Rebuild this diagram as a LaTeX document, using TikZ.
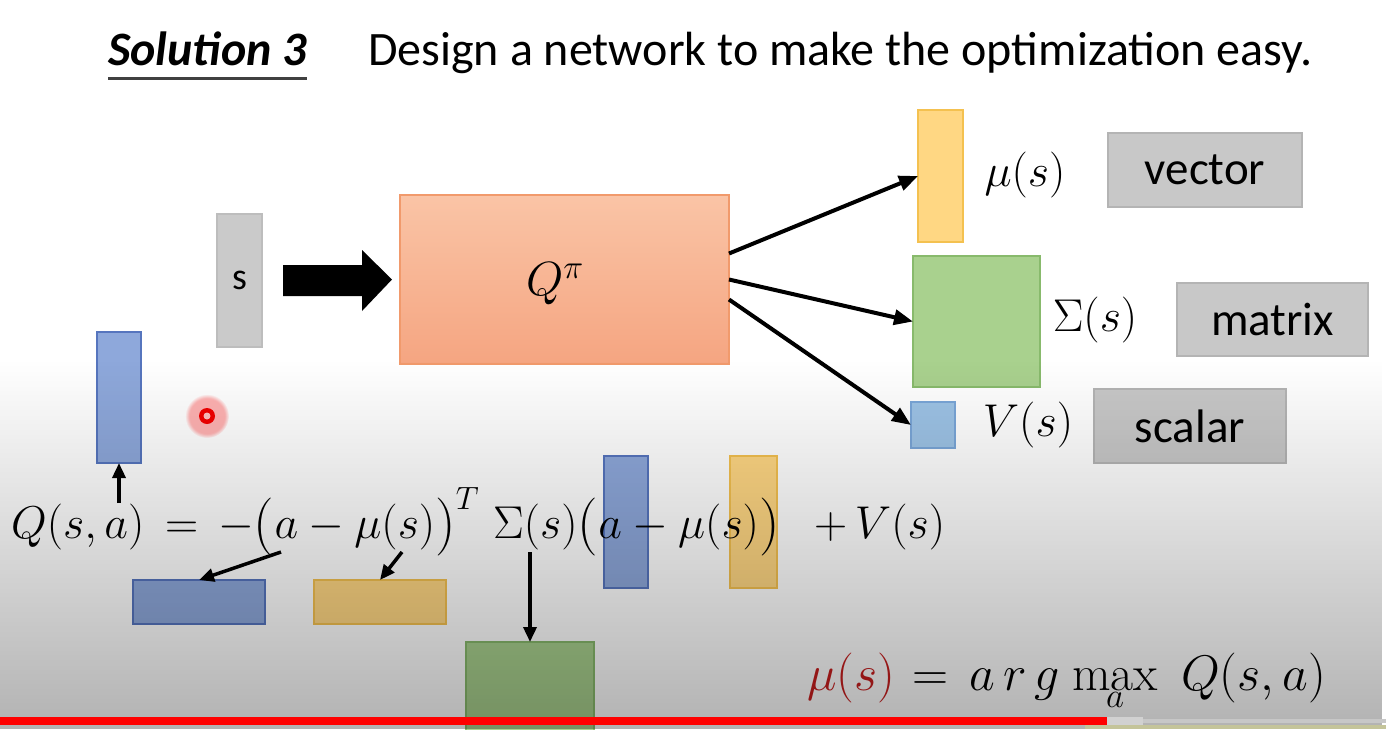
\RequirePackage{fix-cm}
\documentclass[tikz,border=0pt]{standalone}
\usepackage{fontspec}
\newfontfamily\calib{Carlito}
\usetikzlibrary{arrows.meta,fadings,calc}
\definecolor{boxgray}{HTML}{C8C8C8}
\definecolor{boxgrayd}{HTML}{B4B4B4}
\definecolor{sgray}{HTML}{CACACA}
\definecolor{sgrayd}{HTML}{BDBDBD}
\definecolor{qtop}{HTML}{FAC4A6}
\definecolor{qbot}{HTML}{F5A581}
\definecolor{qd}{HTML}{F19A6C}
\definecolor{yel}{HTML}{FFD783}
\definecolor{yeld}{HTML}{F4C150}
\definecolor{grn}{HTML}{A9D18E}
\definecolor{grnd}{HTML}{88BA6C}
\definecolor{blu}{HTML}{8EA8DB}
\definecolor{blud}{HTML}{5675BE}
\definecolor{lblu}{HTML}{9DC3E6}
\definecolor{lblud}{HTML}{7AA6D8}
\definecolor{murd}{RGB}{200,30,30}
\definecolor{undl}{HTML}{404040}
\definecolor{olivestrip}{HTML}{C4C49A}
\newcommand{\lpb}{\mathopen{\raisebox{-3pt}{\fontsize{58}{60}\selectfont$($}}}
\newcommand{\rpb}{\mathclose{\raisebox{-3pt}{\fontsize{58}{60}\selectfont$)$}}}
\newcommand{\maxop}{\mathop{\hbox{\fontsize{50}{54}\selectfont max}}}
\tikzfading[name=darkfade, top color=transparent!100, bottom color=transparent!0]
\begin{document}
\begin{tikzpicture}[x=1pt,y=-1pt,
  rbox/.style={draw, line width=1.4pt, inner sep=0pt, outer sep=0pt},
  graybox/.style={rbox, fill=boxgray, draw=boxgrayd, font=\calib\fontsize{47}{50}\selectfont},
  yelbox/.style={rbox, fill=yel, draw=yeld},
  grnbox/.style={rbox, fill=grn, draw=grnd},
  blubox/.style={rbox, fill=blu, draw=blud},
  lblubox/.style={rbox, fill=lblu, draw=lblud},
  mathlbl/.style={inner sep=0pt, font=\fontsize{46}{50}\selectfont},
  eqp/.style={inner sep=0pt, anchor=base west, font=\fontsize{46}{50}\selectfont},
  eqq/.style={inner sep=0pt, anchor=base west, font=\fontsize{50}{54}\selectfont},
  titletext/.style={inner sep=0pt, anchor=base west, font=\calib\fontsize{48}{52}\selectfont},
  thickarr/.style={line width=4pt, -{Triangle[length=19pt,width=15pt]}},
  eqarr/.style={line width=3.5pt, -{Triangle[length=15pt,width=13pt]}}
]
\useasboundingbox (0,0) rectangle (1386,729);
\fill[white] (0,0) rectangle (1386,729);

% title
\node[titletext, font=\calib\bfseries\itshape\fontsize{48}{52}\selectfont] (sol) at (108,65) {Solution 3};
\draw[undl, line width=3pt] ([yshift=-13pt]sol.base west) -- ([yshift=-13pt]sol.base east);
\node[titletext] (design) at (368,65) {Design a network to make the optimization easy.};

% network part
\node[graybox, fill=sgray, draw=sgrayd, minimum width=45pt, minimum height=133pt, font=\calib\fontsize{38}{40}\selectfont] (s) at (239.5,280.5) {s};
\node[rbox, top color=qtop, bottom color=qbot, draw=qd, minimum width=329pt, minimum height=169pt] (Q) at (564.5,279.5) {};
\node[mathlbl, font=\fontsize{48}{52}\selectfont] (qpi) at (555,284) {$Q^{\pi}$};
\fill[black] ($(s.east)+(21,-15.5)$) -- ($(s.east)+(100,-15.5)$) -- ($(s.east)+(100,-30.5)$)
  -- ($(Q.west)+(-8,0)$) -- ($(s.east)+(100,30.5)$) -- ($(s.east)+(100,15.5)$)
  -- ($(s.east)+(21,15.5)$) -- cycle;

\node[yelbox, minimum width=45pt, minimum height=132pt] (mu) at (940.5,176) {};
\node[mathlbl] (mulbl) at (1025,175) {$\mu(s)$};
\node[graybox, minimum width=194pt, minimum height=74pt] (vec) at (1205,170) {vector};

\node[grnbox, minimum width=127pt, minimum height=131pt] (sig) at (976.5,321.5) {};
\node[mathlbl] (siglbl) at (1095,320) {$\Sigma(s)$};
\node[graybox, minimum width=191pt, minimum height=73pt] (mat) at (1272.5,319.5) {matrix};

\node[lblubox, minimum width=44pt, minimum height=46pt] (v) at (933,425) {};
\node[mathlbl] (vlbl) at (1028,425) {$V(s)$};
\node[graybox, minimum width=192pt, minimum height=74pt] (sca) at (1190,426) {scalar};

\draw[thickarr] ([yshift=26pt]Q.east) -- (mu.west);
\draw[thickarr] (Q.east) -- (sig.west);
\draw[thickarr] ([yshift=-20pt]Q.east) -- (v.west);

% equation part
\node[blubox, minimum width=44pt, minimum height=131pt] (bv) at (119,397.5) {};
\node[blubox, minimum width=132pt, minimum height=44pt] (bh) at (199,602) {};
\node[yelbox, minimum width=132pt, minimum height=44pt] (yh) at (380,602) {};
\node[grnbox, minimum width=128pt, minimum height=100pt] (gb) at (530,692) {};
\node[blubox, minimum width=44pt, minimum height=132pt] (bv2) at (626,522) {};
\node[yelbox, minimum width=47pt, minimum height=132pt] (yv2) at (753.5,522) {};

\node[eqp] (e1) at (11,538) {$Q(s,a)$};
\node[eqp] (e2) at (165,538) {$=$};
\node[eqp] (e3) at (218,538) {$-\lpb a-\mu(s)\rpb^{T}$};
\node[eqp] (e4) at (493,538) {$\Sigma(s)\lpb a-\mu(s)\rpb$};
\node[eqp] (e5) at (814,538) {$+\,V(s)$};

\coordinate (c0) at (119,503);
\coordinate (c1) at (281,552);
\coordinate (c2) at (402,552);
\coordinate (c3) at (530,552);
\draw[eqarr] (c0) -- (bv.south);
\draw[eqarr] (c1) -- (bh.north);
\draw[eqarr] (c2) -- (yh.north);
\draw[eqarr] (c3) -- (gb.north);

\node[eqq, text=murd] (m1) at (807,690) {$\mu(s)$};
\node[eqq] (m2) at (912,690) {$=$};
\node[eqq] (m3) at (969,690) {$a\mkern3mu r\mkern3mu g$};
\node[eqq] (m4) at (1072,690) {$\maxop\limits_{a}$};
\node[eqq] (m5) at (1181,690) {$Q(s,a)$};

% laser pointer
\fill[red, fill opacity=0.3, path fading=circle with fuzzy edge 20 percent] (207,416) circle (22);
\fill[red!95!black] (207,416) circle (8);
\fill[red!25!white] (207,416) circle (3.5);

% video shade
\fill[black, fill opacity=0.30, path fading=darkfade] (0,360) rectangle (1386,729);

% progress bar
\fill[red] (0,717) rectangle (1107,725);
\fill[black!18] (1107,717) rectangle (1143,725);
\fill[black!22] (1143,719) rectangle (1386,723);
\fill[olivestrip] (1085,725) rectangle (1386,729);
\end{tikzpicture}
\end{document}
